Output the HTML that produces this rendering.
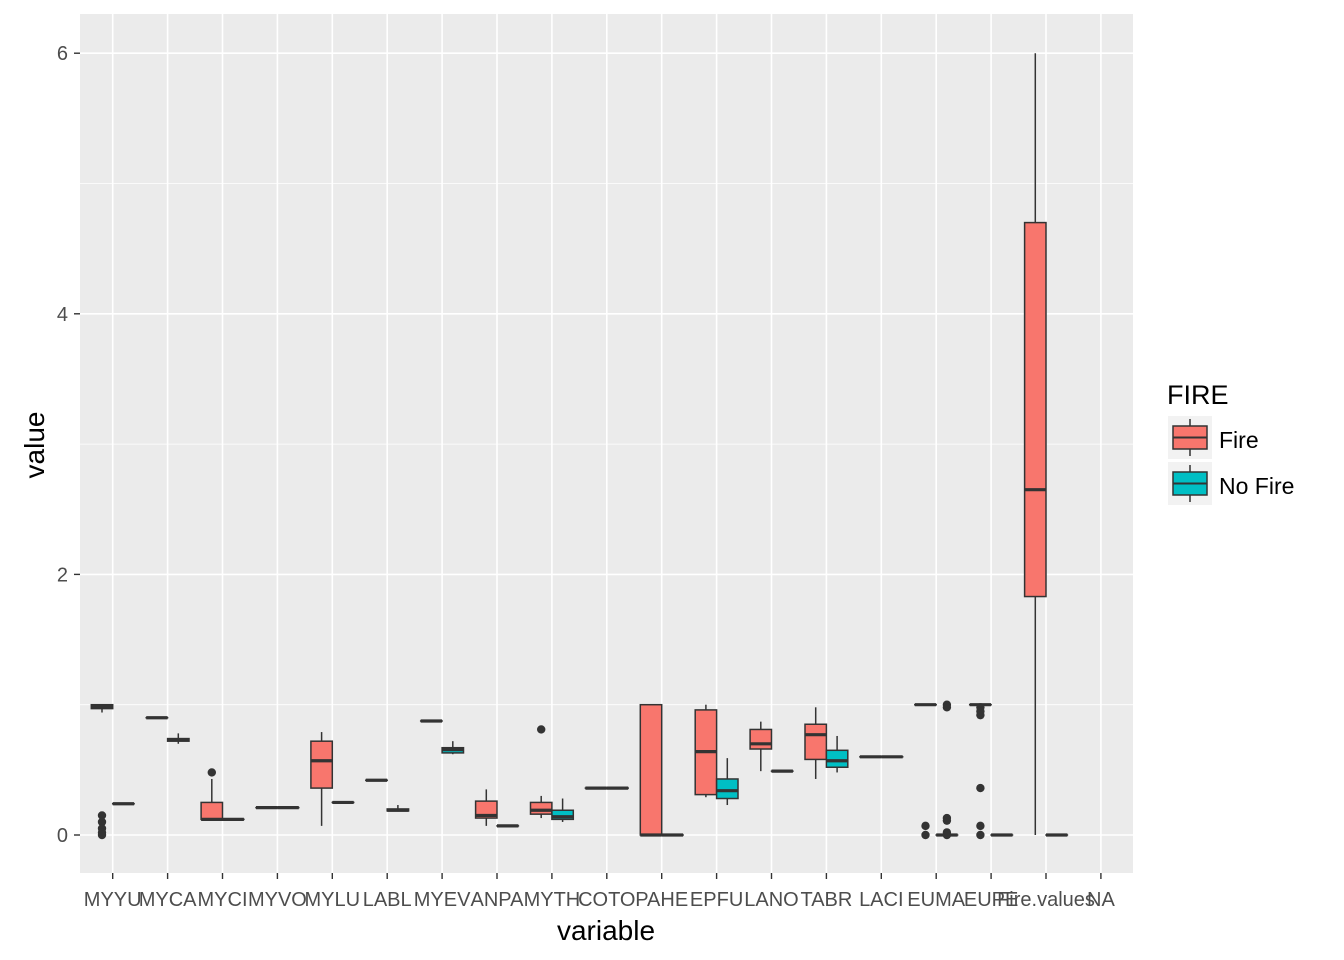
<!DOCTYPE html>
<html><head><meta charset="utf-8"><style>
html,body{margin:0;padding:0;background:#fff;}
svg{display:block;font-family:"Liberation Sans",Arial,sans-serif;}
</style></head><body>
<svg id="chart" width="1344" height="960" viewBox="0 0 1344 960" xmlns="http://www.w3.org/2000/svg">
<rect x="80" y="14" width="1053" height="859" fill="#EBEBEB"/>
<g id="grid"></g>
<g id="marks"></g>
<g id="axes"></g>
<text transform="translate(44,445) rotate(-90)" text-anchor="middle" font-size="28" fill="#000">value</text>
<text x="606" y="940" text-anchor="middle" font-size="28" fill="#000">variable</text>
<g>
<text x="1167" y="404" font-size="27" fill="#000">FIRE</text>
<g>
<rect x="1168" y="416" width="44" height="43" fill="#F2F2F2"/>
<line x1="1190" y1="419" x2="1190" y2="456" stroke="#333" stroke-width="1.5"/>
<rect x="1173" y="426" width="34" height="23" fill="#F8766D" stroke="#333" stroke-width="1.5"/>
<line x1="1173" y1="437.5" x2="1207" y2="437.5" stroke="#333" stroke-width="2"/>
<text x="1219" y="448" font-size="23" fill="#000">Fire</text>
</g>
<g>
<rect x="1168" y="462" width="44" height="43" fill="#F2F2F2"/>
<line x1="1190" y1="465" x2="1190" y2="502" stroke="#333" stroke-width="1.5"/>
<rect x="1173" y="472" width="34" height="23" fill="#00BFC4" stroke="#333" stroke-width="1.5"/>
<line x1="1173" y1="483.5" x2="1207" y2="483.5" stroke="#333" stroke-width="2"/>
<text x="1219" y="494" font-size="23" fill="#000">No Fire</text>
</g>
</g>
</svg>
<script>
const categories = ["MYYU","MYCA","MYCI","MYVO","MYLU","LABL","MYEV","ANPA","MYTH","COTO","PAHE","EPFU","LANO","TABR","LACI","EUMA","EUPE","Fire.values","NA"];
const yTicks = [0,2,4,6];
const yMinor = [1,3,5];
// Fire stats: [lowerWhisker, q1, median, q3, upperWhisker]
const fireStats = [
 [0.94,0.97,0.985,1.0,1.0],[0.9,0.9,0.9,0.9,0.9],[0.11,0.12,0.12,0.25,0.43],[0.21,0.21,0.21,0.21,0.21],
 [0.07,0.36,0.57,0.72,0.79],[0.42,0.42,0.42,0.42,0.42],[0.875,0.875,0.875,0.875,0.875],[0.07,0.13,0.15,0.26,0.35],
 [0.13,0.16,0.19,0.25,0.3],[0.36,0.36,0.36,0.36,0.36],[0,0,0,1.0,1.0],[0.29,0.31,0.64,0.96,1.0],
 [0.49,0.66,0.7,0.81,0.87],[0.43,0.58,0.77,0.85,0.98],[0.6,0.6,0.6,0.6,0.6],[1,1,1,1,1],[1,1,1,1,1],
 [0,1.83,2.65,4.7,6.0],null];
const fireOutliers = [[0.15,0.1,0.05,0.02,0.0],[],[0.48],[],[],[],[],[],[0.81],[],[],[],[],[],[],[0.07,0.0],[0.98,0.95,0.92,0.36,0.07,0.0],[],[]];
const noFireStats = [
 [0.24,0.24,0.24,0.24,0.24],[0.7,0.72,0.73,0.74,0.78],[0.12,0.12,0.12,0.12,0.12],[0.21,0.21,0.21,0.21,0.21],
 [0.25,0.25,0.25,0.25,0.25],[0.18,0.185,0.19,0.2,0.23],[0.62,0.63,0.655,0.67,0.72],[0.07,0.07,0.07,0.07,0.07],
 [0.1,0.12,0.14,0.19,0.28],[0.36,0.36,0.36,0.36,0.36],[0,0,0,0,0],[0.23,0.28,0.34,0.43,0.59],
 [0.49,0.49,0.49,0.49,0.49],[0.48,0.52,0.57,0.65,0.76],[0.6,0.6,0.6,0.6,0.6],[0,0,0,0,0],[0,0,0,0,0],
 [0,0,0,0,0],null];
const noFireOutliers = [[],[],[],[],[],[],[],[],[],[],[],[],[],[],[],[1.0,0.98,0.13,0.11,0.02,0.0],[],[],[]];

const NS="http://www.w3.org/2000/svg";
const x0=112.7, dx=54.9;
function xScale(i){return x0+i*dx;}
function yScale(v){return 835-v*130.3;}
function mk(tag,attrs,parent){const e=document.createElementNS(NS,tag);for(const k in attrs)e.setAttribute(k,attrs[k]);parent.appendChild(e);return e;}
const grid=document.getElementById('grid'), marks=document.getElementById('marks'), axes=document.getElementById('axes');
yMinor.forEach(v=>{const l=mk('line',{x1:80,x2:1133,y1:yScale(v),y2:yScale(v),stroke:'#fff','stroke-width':0.8},grid);

});
yTicks.forEach(v=>{const l=mk('line',{x1:80,x2:1133,y1:yScale(v),y2:yScale(v),stroke:'#fff','stroke-width':1.6},grid);


const t=mk('line',{x1:74,x2:80,y1:yScale(v),y2:yScale(v),stroke:'#333','stroke-width':1.4},axes);


const tx=mk('text',{x:68,y:yScale(v)+7,'text-anchor':'end','font-size':20,fill:'#4D4D4D'},axes);tx.textContent=v;

});
categories.forEach((c,i)=>{const x=xScale(i);
const g=mk('line',{x1:x,x2:x,y1:14,y2:873,stroke:'#fff','stroke-width':1.6},grid);


const t=mk('line',{x1:x,x2:x,y1:873,y2:879,stroke:'#333','stroke-width':1.4},axes);


const tx=mk('text',{x:x,y:906,'text-anchor':'middle','font-size':20,fill:'#4D4D4D'},axes);tx.textContent=c;

});
const hw=10.7;
function drawBox(i,s,outs,off,color,name){
 const cx=xScale(i)+off;
 if(s){
  const g=mk('g',{},marks);
  
  
  mk('line',{x1:cx,x2:cx,y1:yScale(s[4]),y2:yScale(s[3]),stroke:'#333','stroke-width':1.5},g);
  mk('line',{x1:cx,x2:cx,y1:yScale(s[1]),y2:yScale(s[0]),stroke:'#333','stroke-width':1.5},g);
  const top=yScale(s[3]),bot=yScale(s[1]);
  mk('rect',{x:cx-hw,y:top,width:2*hw,height:Math.max(bot-top,0.01),fill:color,stroke:'#333','stroke-width':1.5},g);
  mk('line',{x1:cx-hw,x2:cx+hw,y1:yScale(s[2]),y2:yScale(s[2]),stroke:'#333','stroke-width':3.2},g);
 }
 outs.forEach(v=>{const p=mk('circle',{cx:cx,cy:yScale(v),r:4.2,fill:'#333'},marks);
 
 });
}
categories.forEach((c,i)=>{drawBox(i,fireStats[i],fireOutliers[i],-hw,'#F8766D','box-fire');drawBox(i,noFireStats[i],noFireOutliers[i],hw,'#00BFC4','box-no-fire');});
</script>
</body></html>
